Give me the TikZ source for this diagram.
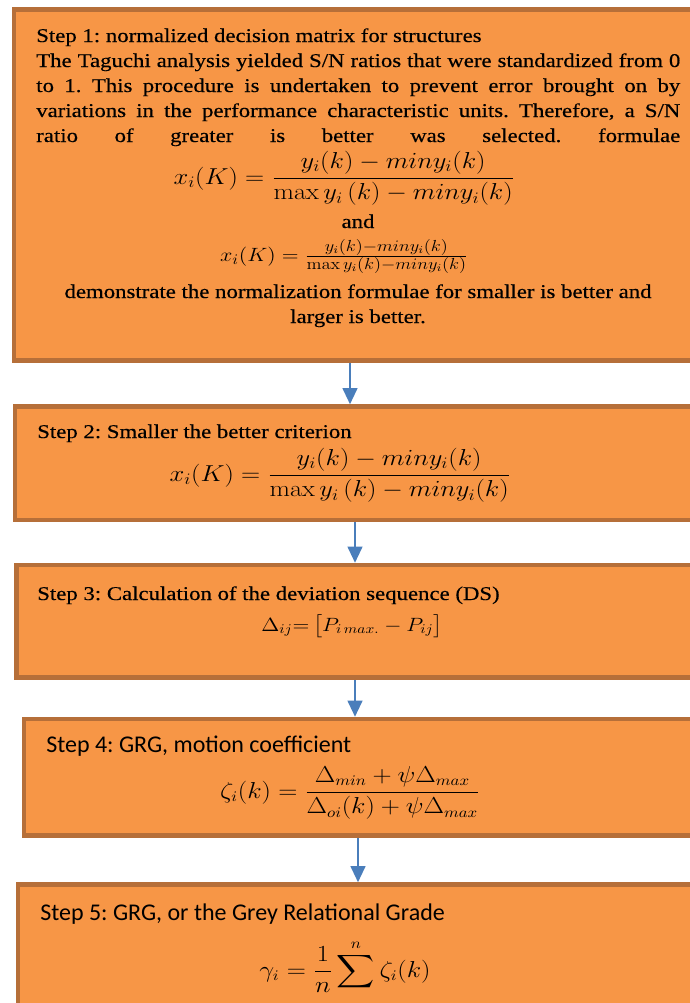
\documentclass[tikz,border=0pt]{standalone}
\usepackage{amsmath}
\usepackage{graphicx}
\usepackage[no-math]{fontspec}
\usetikzlibrary{fit,arrows.meta}
\setmainfont{Liberation Serif}[FakeStretch=1.17,FakeBold=0.4]
\newfontfamily\calibfont{Carlito}
\definecolor{boxfill}{HTML}{F79646}
\definecolor{boxedge}{HTML}{B66F39}
\definecolor{arrowblue}{HTML}{4A7EBB}
\newcommand{\wide}[1]{\scalebox{1.15}[1]{#1}}
\newcommand{\fracpart}[1]{\text{\fontsize{11.5}{13}\selectfont$#1$}}
\frenchspacing

\begin{document}
\begin{tikzpicture}[x=0.75pt,y=0.75pt,yscale=-1,xscale=1,
  stepbox/.style={draw=boxedge, fill=boxfill, line width=3.4pt, inner sep=0pt},
  flow/.style={draw=arrowblue, line width=1.5pt, -{Triangle[length=12pt,width=11pt]}},
  txt/.style={anchor=base west, inner sep=0pt, font=\fontsize{14.6}{18.75}\selectfont},
  midtxt/.style={txt, anchor=base},
  sanstxt/.style={anchor=base west, inner sep=0pt, font=\calibfont\fontsize{18}{22}\selectfont},
  eq/.style={anchor=base, inner sep=0pt, font=\fontsize{15.3}{18}\selectfont},
  bigeq/.style={eq, font=\fontsize{16.8}{20}\selectfont}]
\useasboundingbox (0,0) rectangle (689,1003);

%Step boxes
\node [stepbox, fit={(14,9.5) (720,360.5)}] (box1) {};
\node [stepbox, fit={(15,406.5) (720,520)}] (box2) {};
\node [stepbox, fit={(16.5,565) (720,677.5)}] (box3) {};
\node [stepbox, fit={(24,719) (720,835.5)}] (box4) {};
\node [stepbox, fit={(18,884.5) (720,1040)}] (box5) {};

%Arrows
\draw [flow] (350,0 |- box1.south) -- (350,0 |- box2.north);
\draw [flow] (355,0 |- box2.south) -- (355,0 |- box3.north);
\draw [flow] (355,0 |- box3.south) -- (355,0 |- box4.north);
\draw [flow] (358,0 |- box4.south) -- (358,0 |- box5.north);

% Step 1
\node [txt] (s1title) at (36,42) {Step 1: normalized decision matrix for structures};
\node [txt] (s1line1) at (36,67) {\makebox[483pt][s]{The Taguchi analysis yielded S/N ratios that were standardized from 0}};
\node [txt] (s1line2) at (36,92) {\makebox[483pt][s]{to 1. This procedure is undertaken to prevent error brought on by}};
\node [txt] (s1line3) at (36,117) {\makebox[483pt][s]{variations in the performance characteristic units. Therefore, a S/N}};
\node [txt] (s1line4) at (36,142) {\makebox[483pt][s]{ratio of greater is better was selected. formulae}};
\node [bigeq] (s1eqa) at (344,184) {\wide{$\displaystyle x_i(K) = \frac{y_i(k) - miny_i(k)}{\max y_i\,(k) - miny_i(k)}$}};
\node [midtxt] (s1and) at (358,228) {and};
\node [eq] (s1eqb) at (344,261) {\wide{$x_i(K) = \frac{\fracpart{y_i(k){-}miny_i(k)}}{\fracpart{\max y_i(k){-}miny_i(k)}}$}};
\node [midtxt] (s1end1) at (358,298) {demonstrate the normalization formulae for smaller is better and};
\node [midtxt] (s1end2) at (358,323) {larger is better.};

% Step 2
\node [txt] (s2title) at (37,438) {Step 2: Smaller the better criterion};
\node [bigeq] (s2eq) at (340,481) {\wide{$\displaystyle x_i(K) = \frac{y_i(k) - miny_i(k)}{\max y_i\,(k) - miny_i(k)}$}};

% Step 3
\node [txt] (s3title) at (37,600) {Step 3: Calculation of the deviation sequence (DS)};
\node [eq, font=\fontsize{14}{17}\selectfont] (s3eq) at (352,631) {\wide{$\Delta_{ij}{=}\,\bigl[P_{i\,max.} - P_{ij}\bigr]$}};

% Step 4
\node [sanstxt] (s4title) at (46,752) {Step 4: GRG, motion coefficient};
\node [eq, font=\fontsize{16}{19}\selectfont] (s4eq) at (350,798) {\wide{$\displaystyle \zeta_i(k) = \frac{\Delta_{min} + \psi\Delta_{max}}{\Delta_{oi}(k) + \psi\Delta_{max}}$}};

% Step 5
\node [sanstxt] (s5title) at (40,920) {Step 5: GRG, or the Grey Relational Grade};
\node [eq, font=\fontsize{16}{19}\selectfont] (s5eq) at (345,977) {\wide{$\displaystyle \gamma_i = \frac{1}{n}\sum^{n} \zeta_i(k)$}};

\end{tikzpicture}
\end{document}
